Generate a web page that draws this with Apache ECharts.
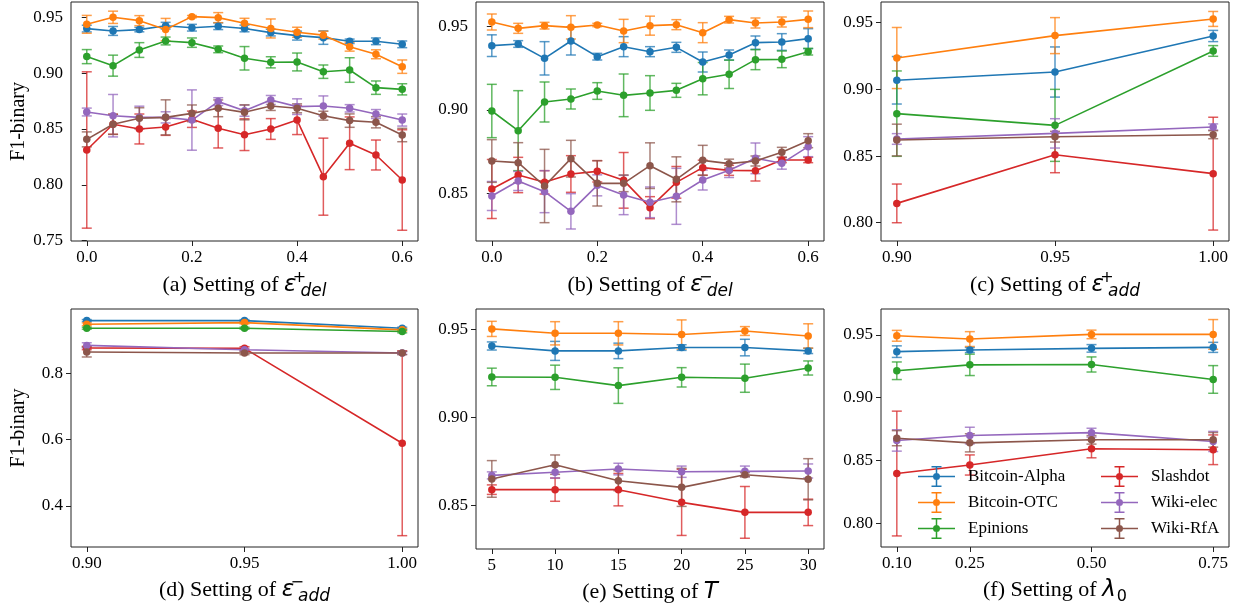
<!DOCTYPE html>
<html><head><meta charset="utf-8">
<script src="https://cdn.jsdelivr.net/npm/echarts@6/dist/echarts.min.js"></script>
<style>html,body{margin:0;padding:0;background:#fff}#c{width:1241px;height:606px}</style>
</head><body><div id="c"></div>
<script>
// ---------- data ----------
const seriesNames = ['Bitcoin-Alpha','Bitcoin-OTC','Epinions','Slashdot','Wiki-elec','Wiki-RfA'];

// (a) epsilon+_del
const xA = [0,0.05,0.1,0.15,0.2,0.25,0.3,0.35,0.4,0.45,0.5,0.55,0.6];
const meanA = [
  [0.9399,0.9378,0.9390,0.9425,0.9407,0.9420,0.9400,0.9363,0.9336,0.9318,0.9285,0.9285,0.9258],
  [0.9437,0.9500,0.9470,0.9390,0.9506,0.9497,0.9446,0.9400,0.9366,0.9340,0.9237,0.9169,0.9058],
  [0.9148,0.9067,0.9207,0.9288,0.9273,0.9213,0.9133,0.9097,0.9100,0.9013,0.9028,0.8870,0.8855],
  [0.8312,0.8542,0.8500,0.8518,0.8587,0.8506,0.8449,0.8500,0.8580,0.8073,0.8372,0.8267,0.8043],
  [0.8652,0.8619,0.8604,0.8604,0.8580,0.8745,0.8664,0.8760,0.8700,0.8706,0.8685,0.8634,0.8580],
  [0.8407,0.8542,0.8596,0.8604,0.8640,0.8685,0.8649,0.8706,0.8685,0.8619,0.8575,0.8560,0.8446]
];
const errA = [
  [0.003,0.004,0.002,0.003,0.003,0.003,0.003,0.003,0.004,0.006,0.002,0.003,0.003],
  [0.008,0.0055,0.0045,0.010,0.001,0.0045,0.0045,0.0085,0.0045,0.0035,0.004,0.004,0.006],
  [0.0063,0.0094,0.0066,0.0035,0.0042,0.003,0.0105,0.005,0.008,0.006,0.011,0.006,0.005],
  [0.070,0.009,0.0134,0.0075,0.0073,0.0176,0.0142,0.0093,0.013,0.0345,0.0236,0.0134,0.045],
  [0.0035,0.019,0.010,0.005,0.027,0.0035,0.005,0.004,0.007,0.009,0.0033,0.004,0.0054],
  [0.0067,0.009,0.0094,0.0157,0.0075,0.0075,0.0067,0.004,0.004,0.004,0.006,0.005,0.006]
];

// (b) epsilon-_del
const xB = [0,0.05,0.1,0.15,0.2,0.25,0.3,0.35,0.4,0.45,0.5,0.55,0.6];
const meanB = [
  [0.9386,0.9396,0.9310,0.9414,0.9320,0.9380,0.9350,0.9376,0.9288,0.9330,0.9404,0.9408,0.9428],
  [0.9528,0.9490,0.9506,0.9496,0.9510,0.9474,0.9506,0.9512,0.9464,0.9542,0.9522,0.9528,0.9544],
  [0.8994,0.8876,0.9048,0.9066,0.9114,0.9088,0.9102,0.9118,0.9188,0.9214,0.9302,0.9304,0.9350],
  [0.8526,0.8610,0.8566,0.8616,0.8632,0.8578,0.8414,0.8566,0.8654,0.8638,0.8636,0.8700,0.8700],
  [0.8484,0.8574,0.8510,0.8392,0.8548,0.8490,0.8446,0.8482,0.8580,0.8638,0.8710,0.8680,0.8780],
  [0.8694,0.8684,0.8544,0.8708,0.8560,0.8560,0.8666,0.8584,0.8698,0.8678,0.8694,0.8746,0.8816]
];
const errB = [
  [0.0065,0.002,0.010,0.0084,0.002,0.006,0.003,0.003,0.006,0.003,0.004,0.005,0.006],
  [0.0048,0.003,0.002,0.007,0.001,0.007,0.0057,0.003,0.006,0.002,0.003,0.003,0.005],
  [0.016,0.024,0.012,0.006,0.005,0.0128,0.0104,0.0042,0.0097,0.0085,0.006,0.005,0.002],
  [0.0177,0.0106,0.007,0.011,0.0064,0.0167,0.0066,0.0095,0.0045,0.003,0.0062,0.0016,0.0016],
  [0.0087,0.0057,0.0126,0.0106,0.0063,0.0118,0.0092,0.0168,0.006,0.0043,0.0092,0.0035,0.006],
  [0.0128,0.012,0.022,0.011,0.0136,0.005,0.0137,0.0135,0.009,0.0027,0.003,0.003,0.0042]
];

// (c) epsilon+_add
const xC = [0.9,0.95,1.0];
const meanC = [
  [0.9068,0.9130,0.9400],
  [0.9235,0.9403,0.9528],
  [0.8818,0.8730,0.9288],
  [0.8145,0.8510,0.8368],
  [0.8628,0.8670,0.8718],
  [0.8620,0.8645,0.8660]
];
const errC = [
  [0.0178,0.0188,0.0042],
  [0.0229,0.0135,0.0056],
  [0.032,0.027,0.004],
  [0.0145,0.0135,0.0423],
  [0.004,0.011,0.0023],
  [0.0119,0.004,0.003]
];

// (d) epsilon-_add
const xD = [0.9,0.95,1.0];
const meanD = [
  [0.9596,0.9596,0.9367],
  [0.9486,0.9536,0.9317],
  [0.9367,0.9367,0.9267],
  [0.8768,0.8758,0.5895],
  [0.8848,0.8718,0.8618],
  [0.8648,0.8618,0.8618]
];
const errD = [
  [0.003,0.003,0.003],
  [0.004,0.004,0.004],
  [0.003,0.003,0.004],
  [0.005,0.005,0.279],
  [0.008,0.004,0.004],
  [0.015,0.005,0.005]
];

// (e) T
const xE = [5,10,15,20,25,30];
const meanE = [
  [0.9405,0.9377,0.9377,0.9396,0.9396,0.9377],
  [0.9502,0.9477,0.9477,0.9470,0.9490,0.9462],
  [0.9229,0.9227,0.9180,0.9227,0.9222,0.9280],
  [0.8589,0.8589,0.8589,0.8517,0.8460,0.8460],
  [0.8670,0.8688,0.8706,0.8691,0.8693,0.8695],
  [0.8650,0.8731,0.8640,0.8602,0.8674,0.8648]
];
const errE = [
  [0.0023,0.0054,0.0044,0.0016,0.0047,0.0015],
  [0.0043,0.0066,0.0066,0.0083,0.0025,0.0069],
  [0.005,0.0069,0.0101,0.0055,0.008,0.004],
  [0.0027,0.0066,0.0092,0.0188,0.0147,0.0075],
  [0.002,0.0033,0.0033,0.0032,0.003,0.004],
  [0.0104,0.0055,0.0057,0.0108,0.0012,0.0117]
];

// (f) lambda_0
const xF = [0.1,0.25,0.5,0.75];
const meanF = [
  [0.9366,0.9379,0.9392,0.9400],
  [0.9492,0.9466,0.9503,0.9503],
  [0.9214,0.9261,0.9264,0.9145],
  [0.8397,0.8465,0.8594,0.8586],
  [0.8660,0.8699,0.8722,0.8652],
  [0.8678,0.8641,0.8665,0.8665]
];
const errF = [
  [0.0046,0.002,0.003,0.004],
  [0.0043,0.0059,0.0034,0.0118],
  [0.007,0.0085,0.006,0.011],
  [0.0496,0.008,0.0072,0.0118],
  [0.0085,0.0066,0.0035,0.008],
  [0.006,0.0072,0.0034,0.0058]
];

// tick labels
const ticksXA = [0,0.2,0.4,0.6];
const ticksXC = [0.9,0.95,1.0];
const ticksXE = [5,10,15,20,25,30];
const ticksXF = [0.1,0.25,0.5,0.75];
const ticksYA = [0.75,0.8,0.85,0.9,0.95];
const ticksYB = [0.85,0.9,0.95];
const ticksYC = [0.8,0.85,0.9,0.95];
const ticksYD = [0.4,0.6,0.8];

const titles = [
  '{t|(a) Setting of }{m|ε}{sup|+}{sub|del}',
  '{t|(b) Setting of }{m|ε}{sup|−}{sub|del}',
  '{t|(c) Setting of }{m|ε}{sup|+}{sub|add}',
  '{t|(d) Setting of }{m|ε}{sup|−}{sub|add}',
  '{t|(e) Setting of }{m|T}',
  '{t|(f) Setting of }{m|λ}{sub0|0}'
];

// ---------- styles / layout ----------
const colors = ['#1f77b4','#ff7f0e','#2ca02c','#d62728','#9467bd','#8c564b'];
const SERIF = 'Liberation Serif';
const panels = [
  {x:xA, mean:meanA, err:errA, xr:[-0.03,0.63], yr:[0.7497,0.9637], xt:ticksXA, xd:1, yt:ticksYA, yd:2, g:[71,2,347,239], yl:true, gap:29},
  {x:xB, mean:meanB, err:errB, xr:[-0.03,0.63], yr:[0.8214,0.9648], xt:ticksXA, xd:1, yt:ticksYB, yd:2, g:[476,2,348,239], yl:false, gap:29},
  {x:xC, mean:meanC, err:errC, xr:[0.895,1.005], yr:[0.7863,0.9655], xt:ticksXC, xd:2, yt:ticksYC, yd:2, g:[881,2,348,239], yl:false, gap:29},
  {x:xD, mean:meanD, err:errD, xr:[0.895,1.005], yr:[0.2763,0.9946], xt:ticksXC, xd:2, yt:ticksYD, yd:1, g:[71,309,347,240], yl:true, gap:28},
  {x:xE, mean:meanE, err:errE, xr:[3.75,31.25], yr:[0.8252,0.9615], xt:ticksXE, xd:0, yt:ticksYB, yd:2, g:[476,309,348,240], yl:false, gap:28},
  {x:xF, mean:meanF, err:errF, xr:[0.0675,0.7825], yr:[0.7813,0.9705], xt:ticksXF, xd:2, yt:ticksYC, yd:2, g:[881,309,348,240], yl:false, gap:28}
];

const rich = {
  t:   {fontFamily:SERIF, fontSize:22, color:'#000', lineHeight:30, verticalAlign:'middle'},
  m:   {fontFamily:'DejaVu Sans', fontStyle:'italic', fontSize:23, color:'#000', lineHeight:30, verticalAlign:'middle'},
  sup: {fontFamily:'DejaVu Sans', fontSize:16, color:'#000', lineHeight:12, verticalAlign:'top', width:2, align:'left', padding:[0,0,0,2]},
  sub: {fontFamily:'DejaVu Sans', fontStyle:'italic', fontSize:17, color:'#000', lineHeight:16, verticalAlign:'bottom'},
  sub0:{fontFamily:'DejaVu Sans', fontSize:16, color:'#000', lineHeight:16, verticalAlign:'bottom', padding:[0,0,0,1]}
};

function makeErr(color) {
  return function (params, api) {
    const x = api.value(0), lo = api.value(1), hi = api.value(2);
    const p1 = api.coord([x, hi]), p2 = api.coord([x, lo]);
    const hw = 5;
    const st = {stroke: color, lineWidth: 1.5, opacity: 0.75, fill: null};
    return {type:'group', children:[
      {type:'line', shape:{x1:p1[0], y1:p1[1], x2:p2[0], y2:p2[1]}, style:st},
      {type:'line', shape:{x1:p1[0]-hw, y1:p1[1], x2:p1[0]+hw, y2:p1[1]}, style:st},
      {type:'line', shape:{x1:p2[0]-hw, y1:p2[1], x2:p2[0]+hw, y2:p2[1]}, style:st}
    ]};
  };
}

const grids = [], xAxes = [], yAxes = [], series = [];
panels.forEach((p, i) => {
  grids.push({left:p.g[0], top:p.g[1], width:p.g[2], height:p.g[3], show:true, borderColor:'#222', borderWidth:1, backgroundColor:'transparent'});
  xAxes.push({
    type:'value', gridIndex:i, min:p.xr[0], max:p.xr[1],
    axisLine:{show:false}, splitLine:{show:false},
    axisTick:{show:true, length:5, lineStyle:{color:'#222'}, customValues:p.xt},
    axisLabel:{customValues:p.xt, formatter:v => Number(v).toFixed(p.xd), margin:8, fontFamily:SERIF, fontSize:17, color:'#000'},
    name:titles[i], nameLocation:'middle', nameGap:p.gap,
    nameTextStyle:{rich:rich}
  });
  yAxes.push({
    type:'value', gridIndex:i, min:p.yr[0], max:p.yr[1],
    axisLine:{show:false}, splitLine:{show:false},
    axisTick:{show:true, length:5, lineStyle:{color:'#222'}, customValues:p.yt},
    axisLabel:{customValues:p.yt, formatter:v => Number(v).toFixed(p.yd), margin:8, fontFamily:SERIF, fontSize:17, color:'#000'},
    name: p.yl ? 'F1-binary' : '', nameLocation:'middle', nameGap:42, nameRotate:90,
    nameTextStyle:{fontFamily:SERIF, fontSize:20, color:'#000'}
  });
  seriesNames.forEach((nm, k) => {
    series.push({
      type:'line', name:nm, xAxisIndex:i, yAxisIndex:i,
      data:p.x.map((x, j) => [x, p.mean[k][j]]),
      symbol:'circle', symbolSize:7.5, showSymbol:true,
      lineStyle:{width:1.6, color:colors[k]}, itemStyle:{color:colors[k]},
      emphasis:{disabled:true}
    });
    series.push({
      type:'custom', name:nm + ' error', xAxisIndex:i, yAxisIndex:i,
      data:p.x.map((x, j) => [x, p.mean[k][j] - p.err[k][j], p.mean[k][j] + p.err[k][j]]),
      encode:{x:0, y:[1,2]},
      renderItem:makeErr(colors[k])
    });
  });
});

// legend icon: line + marker + error bar with caps (37 x 21 box)
const ICON = 'path://M0,9.75h37v1.5h-37z M17.75,0h1.5v21h-1.5z M13.5,0h10v1.5h-10z M13.5,19.5h10v1.5h-10z M15,10.5a3.5,3.5 0 1,1 7,0a3.5,3.5 0 1,1 -7,0z';
const legendCommon = {
  orient:'vertical', itemWidth:37, itemHeight:21, itemGap:5, selectedMode:false,
  itemStyle:{borderWidth:0},
  textStyle:{fontFamily:SERIF, fontSize:17, color:'#000', padding:[0,0,0,8]}
};

const chart = echarts.init(document.getElementById('c'), null, {renderer:'canvas'});
chart.setOption({
  animation:false,
  backgroundColor:'#fff',
  grid:grids, xAxis:xAxes, yAxis:yAxes, series:series,
  legend:[
    Object.assign({}, legendCommon, {left:913, top:461, data:seriesNames.slice(0,3).map(n => ({name:n, icon:ICON}))}),
    Object.assign({}, legendCommon, {left:1096, top:461, data:seriesNames.slice(3).map(n => ({name:n, icon:ICON}))})
  ]
});
</script></body></html>
